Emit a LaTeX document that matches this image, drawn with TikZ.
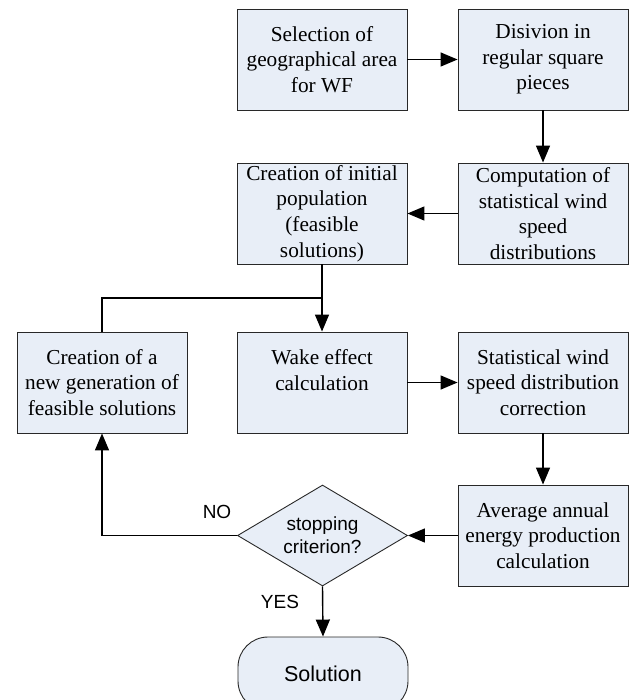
\documentclass[tikz,border=0pt]{standalone}
\usepackage{fontspec}
\setmainfont{Liberation Serif}
\setsansfont{Liberation Sans}
\usetikzlibrary{arrows.meta,shapes.geometric}

\definecolor{boxfill}{RGB}{232,238,247}
\definecolor{boxline}{RGB}{40,40,40}

\begin{document}
\begin{tikzpicture}[x=1pt,y=-1pt,
  stepbox/.style={draw=boxline,fill=boxfill,line width=0.9pt,minimum width=170pt,minimum height=101pt,align=center,inner sep=2pt,font=\fontsize{21.3}{25.6}\selectfont},
  decision/.style={diamond,draw=boxline,fill=boxfill,line width=0.9pt,aspect=1.68,minimum width=170pt,minimum height=101pt,inner sep=0pt,align=center,font=\sffamily\fontsize{19}{23}\selectfont},
  terminal/.style={rectangle,rounded corners=30pt,draw=boxline,fill=boxfill,line width=0.9pt,minimum width=170pt,minimum height=74pt,font=\sffamily\fontsize{21.5}{25}\selectfont},
  flow/.style={line width=1.4pt,-{Triangle[length=17pt,width=14pt]}},
  link/.style={line width=1.4pt},
  answer/.style={font=\sffamily\fontsize{19}{23}\selectfont}]

\useasboundingbox (0,0) rectangle (633,700);

% Boxes
\node[stepbox] (select) at (322,59.5) {Selection of\\geographical area\\for WF};
\node[stepbox] (divide) at (543,59.5) {Disivion in\\regular square\\pieces};
\node[stepbox] (windstat) at (543,213.5) {Computation of\\statistical wind\\speed\\distributions};
\node[stepbox] (initpop) at (322,213.5) {Creation of initial\\population\\(feasible\\solutions)};
\node[stepbox] (newgen) at (102,382.5) {Creation of a\\new generation of\\feasible solutions};
\node[stepbox] (wake) at (322,382.5) {Wake effect\\calculation\\\phantom{x}};
\node[stepbox] (correct) at (543,382.5) {Statistical wind\\speed distribution\\correction};
\node[stepbox] (energy) at (543,535.5) {Average annual\\energy production\\calculation};
\node[decision] (stop) at (322.5,535.5) {stopping\\criterion?};
\node[terminal] (solution) at (323,674) {Solution};

% Connectors
\coordinate (split) at (initpop.south |- 0,298);
\coordinate (back) at (newgen.south |- stop.west);
\draw[flow] (select) -- (divide);
\draw[flow] (divide) -- (windstat);
\draw[flow] (windstat) -- (initpop);
\draw[link] (initpop.south) -- (split);
\draw[flow] (split) -- (wake.north);
\draw[link] (split) -| (newgen.north);
\draw[flow] (wake) -- (correct);
\draw[flow] (correct) -- (energy);
\draw[flow] (energy.west) -- (stop.east);
\draw[flow] (stop.west) -- (back) -- (newgen.south);
\draw[flow] (stop.south) -- (solution.north);

% Labels
\node[answer] (no) at (217,512) {NO};
\node[answer] (yes) at (280,602) {YES};

\end{tikzpicture}
\end{document}
